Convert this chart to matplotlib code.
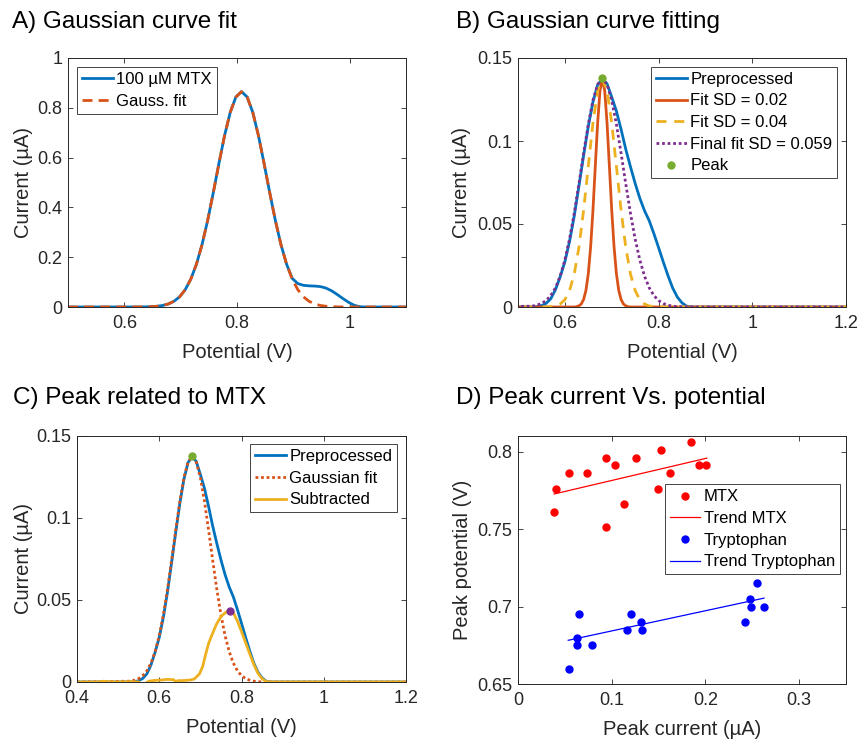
import numpy as np
import matplotlib
matplotlib.use('Agg')
import matplotlib.pyplot as plt
from matplotlib.ticker import FuncFormatter

plt.rcParams['font.family'] = ['Liberation Sans', 'DejaVu Sans']

# matlab default colours
BLUE = '#0072BD'
ORANGE = '#D95319'
YELLOW = '#EDB120'
PURPLE = '#7E2F8E'
GREEN = '#77AC30'
GREY = '#262626'

# ---- panel A: 100 uM MTX voltammogram and its gaussian fit
a_potential = [0.500, 0.628, 0.638, 0.648, 0.658, 0.668, 0.678, 0.688, 0.698, 0.708,
               0.718, 0.728, 0.738, 0.748, 0.758, 0.768, 0.778, 0.788, 0.798, 0.808,
               0.818, 0.828, 0.838, 0.848, 0.858, 0.868, 0.878, 0.888, 0.898, 0.908,
               0.918, 0.928, 0.938, 0.948, 0.958, 0.968, 0.978, 0.988, 0.998, 1.008,
               1.018, 1.028, 1.100]
a_signal = [0.0, 0.0002, 0.0006, 0.0013, 0.0030, 0.0061, 0.0121, 0.0228, 0.0407, 0.0692,
            0.1119, 0.1719, 0.2510, 0.3485, 0.4601, 0.5775, 0.6892, 0.7819, 0.8434, 0.865,
            0.8434, 0.7819, 0.6892, 0.5775, 0.4601, 0.3485, 0.2510, 0.1720, 0.1150, 0.0940,
            0.0870, 0.0850, 0.0840, 0.0820, 0.0760, 0.0650, 0.0500, 0.0340, 0.0190, 0.0070,
            0.0010, 0.0, 0.0]
a_fit = [0.0, 0.0002, 0.0006, 0.0013, 0.0030, 0.0061, 0.0121, 0.0228, 0.0407, 0.0692,
         0.1119, 0.1719, 0.2510, 0.3485, 0.4601, 0.5775, 0.6892, 0.7819, 0.8434, 0.865,
         0.8434, 0.7819, 0.6892, 0.5775, 0.4601, 0.3485, 0.2510, 0.1719, 0.1119, 0.0692,
         0.0407, 0.0228, 0.0121, 0.0061, 0.0030, 0.0013, 0.0006, 0.0002, 0.0, 0.0,
         0.0, 0.0, 0.0]

# ---- panel B / C: preprocessed signal and gaussian fits
b_potential = [0.40, 0.53, 0.54, 0.55, 0.56, 0.57, 0.58, 0.59, 0.60, 0.61,
               0.62, 0.63, 0.64, 0.65, 0.66, 0.67, 0.68, 0.69, 0.70, 0.71,
               0.72, 0.73, 0.74, 0.75, 0.76, 0.77, 0.78, 0.79, 0.80, 0.81,
               0.82, 0.83, 0.84, 0.85, 0.86, 0.87, 0.88, 0.90, 1.20]
preprocessed = [0.0, 0.0, 0.0002, 0.0008, 0.0022, 0.0050, 0.0105, 0.0182, 0.0272, 0.0395,
                0.0548, 0.0728, 0.0912, 0.1088, 0.1236, 0.1338, 0.1375, 0.1345, 0.1265, 0.1180,
                0.1070, 0.0950, 0.0845, 0.0745, 0.0655, 0.0580, 0.0520, 0.0442, 0.0358, 0.0272,
                0.0190, 0.0115, 0.0060, 0.0025, 0.0005, 0.0, 0.0, 0.0, 0.0]
fit_sd04 = [0.0, 0.0, 0.0, 0.0, 0.0, 0.0002, 0.0006, 0.0018, 0.0044, 0.0099,
            0.0199, 0.0359, 0.0582, 0.0848, 0.1109, 0.1303, 0.1375, 0.1303, 0.1109, 0.0848,
            0.0582, 0.0359, 0.0199, 0.0099, 0.0044, 0.0018, 0.0006, 0.0002, 0.0, 0.0,
            0.0, 0.0, 0.0, 0.0, 0.0, 0.0, 0.0, 0.0, 0.0]
fit_final = [0.0, 0.0005, 0.0011, 0.0021, 0.0039, 0.0069, 0.0116, 0.0186, 0.0283, 0.0410,
             0.0565, 0.0742, 0.0926, 0.1101, 0.1246, 0.1341, 0.1375, 0.1341, 0.1246, 0.1101,
             0.0926, 0.0742, 0.0565, 0.0410, 0.0283, 0.0186, 0.0116, 0.0069, 0.0039, 0.0021,
             0.0011, 0.0005, 0.0002, 0.0001, 0.0, 0.0, 0.0, 0.0, 0.0]

sd02_potential = [0.40, 0.62, 0.625, 0.63, 0.635, 0.64, 0.645, 0.65, 0.655, 0.66,
                  0.665, 0.67, 0.675, 0.68, 0.685, 0.69, 0.695, 0.70, 0.705, 0.71,
                  0.715, 0.72, 0.725, 0.73, 0.735, 0.74, 1.20]
fit_sd02 = [0.0, 0.0, 0.0002, 0.0007, 0.0018, 0.0045, 0.0100, 0.0201, 0.0362, 0.0585,
            0.0850, 0.1110, 0.1304, 0.1375, 0.1304, 0.1110, 0.0850, 0.0585, 0.0362, 0.0201,
            0.0100, 0.0045, 0.0018, 0.0007, 0.0002, 0.0, 0.0]

peak1_x, peak1_y = 0.679, 0.1378
peak2_x, peak2_y = 0.772, 0.0435

# subtracted signal (preprocessed minus gaussian fit)
sub_potential = [0.40, 0.45, 0.465, 0.475, 0.50, 0.53, 0.55, 0.56, 0.565, 0.575,
                 0.59, 0.605, 0.62, 0.635, 0.64, 0.645, 0.66, 0.675, 0.685, 0.69,
                 0.698, 0.706, 0.714, 0.72, 0.727, 0.739, 0.751, 0.763, 0.772, 0.78,
                 0.79, 0.80, 0.81, 0.82, 0.83, 0.84, 0.85, 0.86, 0.87, 1.20]
subtracted = [0.0, 0.0, 0.0005, 0.0002, 0.0, 0.0002, 0.0, -0.0015, -0.0010, 0.0005,
              0.0010, 0.0012, 0.0016, 0.0014, 0.0002, 0.0008, 0.0009, 0.0012, 0.0018, 0.0030,
              0.0050, 0.0098, 0.0180, 0.0235, 0.0280, 0.0352, 0.0402, 0.0427, 0.0435, 0.0423,
              0.0372, 0.0308, 0.0240, 0.0172, 0.0107, 0.0053, 0.0020, 0.0003, 0.0, 0.0]

# ---- panel D: peak current vs peak potential
mtx_current = [0.038, 0.041, 0.054, 0.074, 0.094, 0.094, 0.104, 0.113, 0.126, 0.149,
               0.153, 0.162, 0.185, 0.193, 0.201]
mtx_potential = [0.761, 0.776, 0.786, 0.786, 0.796, 0.751, 0.791, 0.766, 0.796, 0.776,
                 0.801, 0.786, 0.806, 0.791, 0.791]
trp_current = [0.054, 0.063, 0.063, 0.065, 0.079, 0.116, 0.121, 0.131, 0.132, 0.242,
               0.248, 0.249, 0.255, 0.262]
trp_potential = [0.660, 0.680, 0.675, 0.695, 0.675, 0.685, 0.695, 0.690, 0.685, 0.690,
                 0.705, 0.700, 0.715, 0.700]
trend_mtx_x = [0.0386, 0.2014]
trend_mtx_y = [0.7726, 0.7957]
trend_trp_x = [0.0536, 0.2625]
trend_trp_y = [0.6782, 0.7054]

W, H = 861, 740
fig = plt.figure(figsize=(W / 100, H / 100), dpi=100)


def px_axes(left, top, right, bottom):
    return fig.add_axes([left / W, 1 - bottom / H, (right - left) / W, (bottom - top) / H])


fmt = FuncFormatter(lambda v, p: f'{v:g}')


def style(ax, xticks, yticks, xlim, ylim):
    ax.set_xlim(*xlim)
    ax.set_ylim(*ylim)
    ax.set_xticks(xticks)
    ax.set_yticks(yticks)
    ax.xaxis.set_major_formatter(fmt)
    ax.yaxis.set_major_formatter(fmt)
    ax.tick_params(direction='in', top=True, right=True, length=3.5, width=0.6,
                   labelsize=13, colors=GREY)
    ax.tick_params(axis='x', pad=6)
    ax.tick_params(axis='y', pad=4)
    for s in ax.spines.values():
        s.set_color(GREY)
        s.set_linewidth(0.7)


def legend(ax, loc, anchor):
    leg = ax.legend(loc=loc, bbox_to_anchor=anchor, borderaxespad=0, fontsize=12,
                    fancybox=False, edgecolor=GREY, framealpha=1, borderpad=0.3,
                    handlelength=1.85, handletextpad=0.2, labelspacing=0.4)
    leg.get_frame().set_linewidth(0.6)
    return leg


lw = 2.0

# A
axA = px_axes(68, 58, 406, 307)
axA.plot(a_potential, a_signal, color=BLUE, lw=lw, label='100 µM MTX')
axA.plot(a_potential, a_fit, color=ORANGE, lw=lw, dashes=(3.6, 2.2), label='Gauss. fit')
style(axA, [0.6, 0.8, 1.0], [0, 0.2, 0.4, 0.6, 0.8, 1.0], (0.5, 1.1), (0, 1))
legend(axA, 'upper left', (0.027, 0.964))
axA.set_xlabel('Potential (V)', fontsize=14.5, color=GREY)
axA.set_ylabel('Current (µA)', fontsize=14.5, color=GREY)
axA.xaxis.set_label_coords(0.5, -0.145)
axA.yaxis.set_label_coords(-0.104, 0.5)

# B
axB = px_axes(518, 58, 846, 307)
axB.plot(b_potential, preprocessed, color=BLUE, lw=lw, label='Preprocessed')
axB.plot(sd02_potential, fit_sd02, color=ORANGE, lw=lw, label='Fit SD = 0.02')
axB.plot(b_potential, fit_sd04, color=YELLOW, lw=lw, dashes=(3.6, 2.8), label='Fit SD = 0.04')
axB.plot(b_potential, fit_final, color=PURPLE, lw=lw, dashes=(1, 1), label='Final fit SD = 0.059')
axB.plot([peak1_x], [peak1_y], 'o', color=GREEN, ms=5, label='Peak')
style(axB, [0.6, 0.8, 1.0, 1.2], [0, 0.05, 0.1, 0.15], (0.5, 1.2), (0, 0.15))
legend(axB, 'upper right', (0.9735, 0.965))
axB.set_xlabel('Potential (V)', fontsize=14.5, color=GREY)
axB.set_ylabel('Current (µA)', fontsize=14.5, color=GREY)
axB.xaxis.set_label_coords(0.5, -0.145)
axB.yaxis.set_label_coords(-0.143, 0.5)

# C
axC = px_axes(77, 436, 406, 682)
axC.plot(b_potential, preprocessed, color=BLUE, lw=lw, label='Preprocessed')
axC.plot(b_potential, fit_final, color=ORANGE, lw=lw, dashes=(1, 1), label='Gaussian fit')
axC.plot(sub_potential, subtracted, color=YELLOW, lw=lw, label='Subtracted')
axC.plot([peak1_x], [peak1_y], 'o', color=GREEN, ms=5)
axC.plot([peak2_x], [peak2_y], 'o', color=PURPLE, ms=5)
style(axC, [0.4, 0.6, 0.8, 1.0, 1.2], [0, 0.05, 0.1, 0.15], (0.4, 1.2), (0, 0.15))
legend(axC, 'upper right', (0.9736, 0.967))
axC.set_xlabel('Potential (V)', fontsize=14.5, color=GREY)
axC.set_ylabel('Current (µA)', fontsize=14.5, color=GREY)
axC.xaxis.set_label_coords(0.5, -0.146)
axC.yaxis.set_label_coords(-0.133, 0.5)

# D
axD = px_axes(518, 436, 846, 684)
axD.plot(mtx_current, mtx_potential, 'o', color='r', ms=5, label='MTX')
axD.plot(trend_mtx_x, trend_mtx_y, color='r', lw=0.9, label='Trend MTX')
axD.plot(trp_current, trp_potential, 'o', color='b', ms=5, label='Tryptophan')
axD.plot(trend_trp_x, trend_trp_y, color='b', lw=0.9, label='Trend Tryptophan')
style(axD, [0, 0.1, 0.2, 0.3], [0.65, 0.7, 0.75, 0.8], (0, 0.35), (0.65, 0.81))
legend(axD, 'upper right', (0.9817, 0.805))
axD.set_xlabel('Peak current (µA)', fontsize=14.5, color=GREY)
axD.set_ylabel('Peak potential (V)', fontsize=14.5, color=GREY)
axD.xaxis.set_label_coords(0.5, -0.147)
axD.yaxis.set_label_coords(-0.141, 0.5)

# panel titles
title_kw = dict(fontsize=17.5, ha='left', va='center')
fig.text(12 / W, 1 - 22 / H, 'A) Gaussian curve fit', **title_kw)
fig.text(456 / W, 1 - 22 / H, 'B) Gaussian curve fitting', **title_kw)
fig.text(13 / W, 1 - 398 / H, 'C) Peak related to MTX', **title_kw)
fig.text(456 / W, 1 - 398 / H, 'D) Peak current Vs. potential', **title_kw)

fig.savefig('out.png', dpi=100)
